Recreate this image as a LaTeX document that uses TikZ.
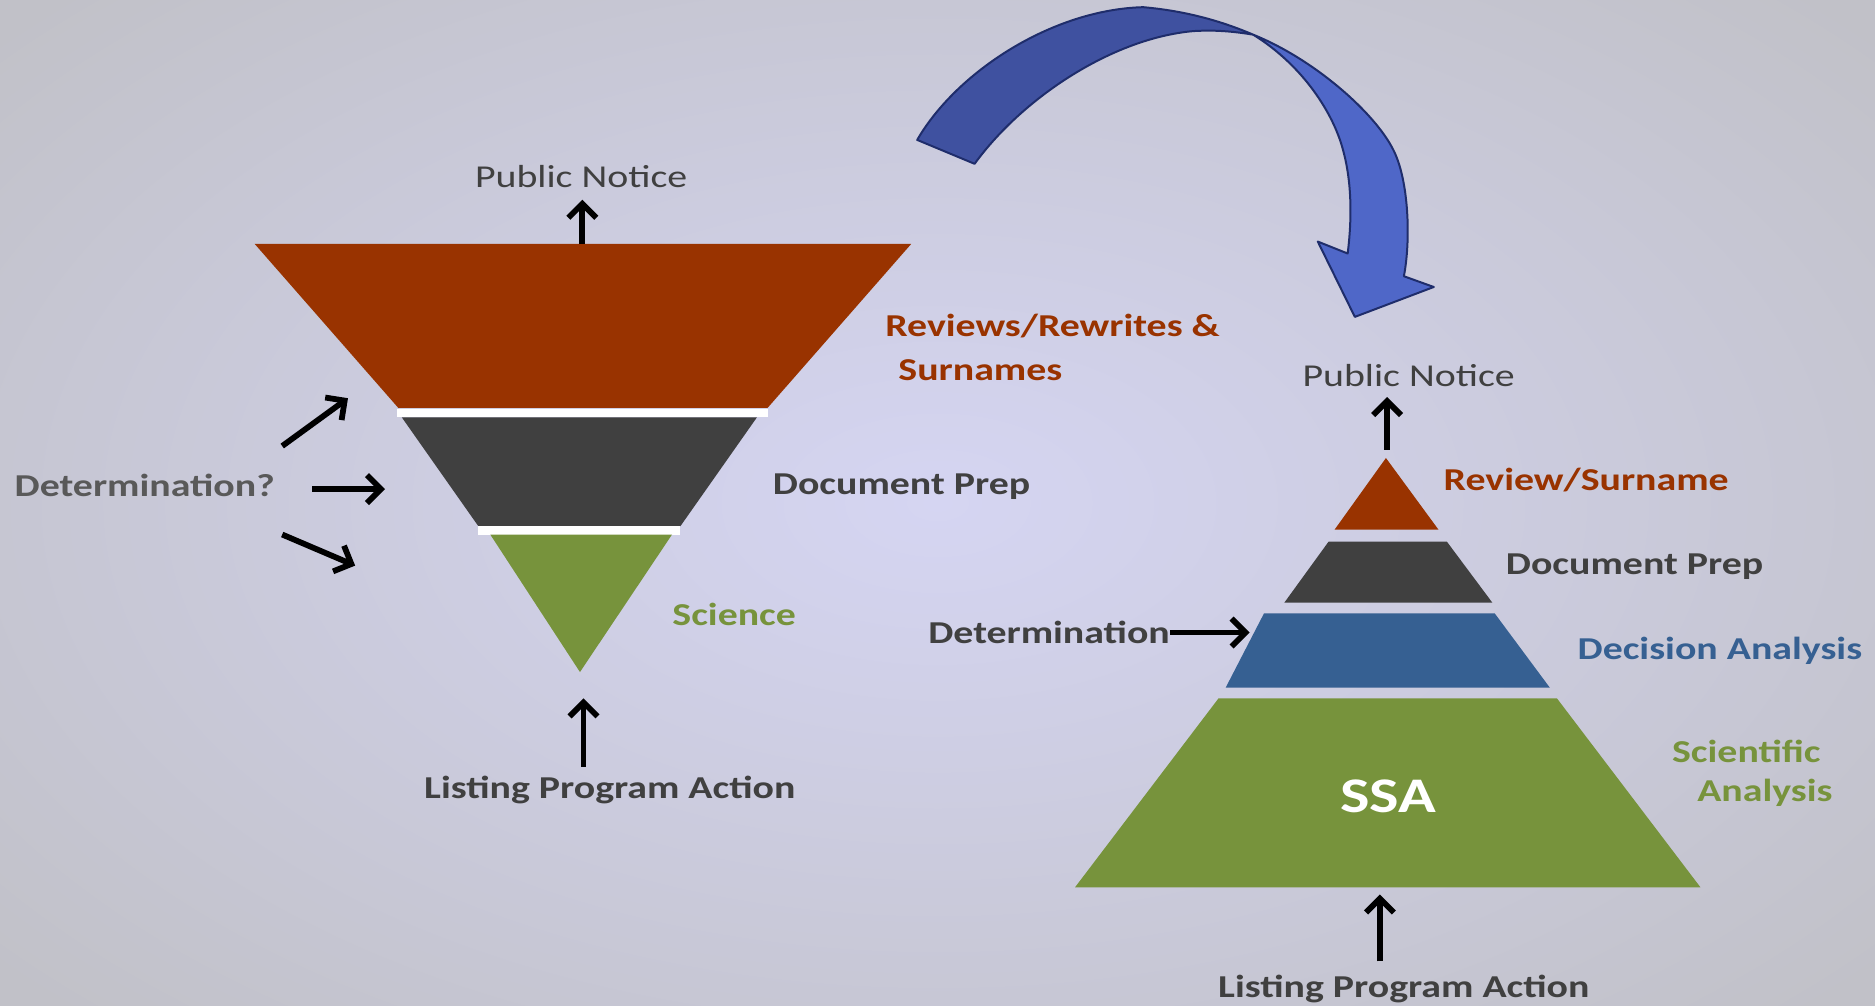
\documentclass[tikz,border=0pt]{standalone}
\usepackage{fontspec}
\usepackage{graphicx}
\setmainfont{Carlito}
\usetikzlibrary{arrows.meta}
\definecolor{bgin}{HTML}{D5D5F2}
\definecolor{bgout}{HTML}{C1C1C8}
\definecolor{rust}{HTML}{993300}
\definecolor{dgray}{HTML}{404040}
\definecolor{mgray}{HTML}{595959}
\definecolor{sblue}{HTML}{366092}
\definecolor{ogreen}{HTML}{77933C}
\definecolor{arrdark}{HTML}{3F51A0}
\definecolor{arrlight}{HTML}{4F67C8}
\definecolor{arredge}{HTML}{1F2D6B}
\newcommand{\wide}[1]{\scalebox{1.25}[1]{#1}}
\begin{document}
\begin{tikzpicture}[x=0.6pt,y=-0.6pt,
  lbl/.style={inner sep=0pt, yshift=-3.3pt, font=\fontsize{16}{18}\selectfont},
  blbl/.style={lbl, font=\fontsize{16}{18}\selectfont\bfseries},
  arr/.style={line width=2.9pt, -{Straight Barb[length=7pt,width=14pt]}}
]
\useasboundingbox (0,0) rectangle (1568,841);
\begin{scope}
\clip (0,0) rectangle (1568,841);
\shade[inner color=bgin, outer color=bgout] (-250,-180) rectangle (1818,1021);
\end{scope}

% ---------- left funnel ----------
\fill[rust] (213,204) -- (762,204) -- (642,341) -- (333,341) -- cycle;
\fill[white] (332,342) rectangle (642,349);
\fill[dgray] (336,349) -- (633,349) -- (569,440) -- (400,440) -- cycle;
\fill[white] (400,440) rectangle (569,447);
\fill[ogreen] (410,447) -- (562,447) -- (485,562) -- cycle;

\coordinate (ltop) at (487,204);
\coordinate (ltopend) at (487,167);
\node[lbl, text=dgray, anchor=mid] (lpn) at (486,147) {\wide{Public Notice}};
\draw[arr] (ltop) -- (ltopend);

\node[blbl, text=rust, anchor=mid west] (rev1) at (740,272) {\wide{Reviews/Rewrites \&}};
\node[blbl, text=rust, anchor=mid west] (rev2) at (751,309) {\wide{Surnames}};
\node[blbl, text=dgray, anchor=mid west] (ldoc) at (646,404) {\wide{Document Prep}};
\node[blbl, text=ogreen, anchor=mid west] (lsci) at (562,514) {\wide{Science}};
\node[blbl, text=dgray, anchor=mid] (llpa) at (510,658) {\wide{Listing Program Action}};
\coordinate (lbot) at (488,641);
\coordinate (lbotend) at (488,584);
\draw[arr] (lbot) -- (lbotend);

\node[blbl, text=mgray, anchor=mid west] (ldet) at (12,406) {\wide{Determination?}};
\coordinate (d1s) at (236,373); \coordinate (d1e) at (291,333);
\coordinate (d2s) at (261,409); \coordinate (d2e) at (322,409);
\coordinate (d3s) at (236,447); \coordinate (d3e) at (297,473);
\draw[arr] (d1s) -- (d1e);
\draw[arr] (d2s) -- (d2e);
\draw[arr] (d3s) -- (d3e);

% ---------- curved arrow ----------
\draw[arredge, line width=1pt, fill=arrdark, line join=round]
  (767,117) .. controls (800,60) and (880,8) .. (956,6)
  .. controls (990,9) and (1020,17) .. (1048,29)
  .. controls (1030,26) and (1015,25) .. (998,26)
  .. controls (930,32) and (855,82) .. (815,137) -- cycle;
\draw[arredge, line width=1pt, fill=arrlight, line join=round]
  (1048,29) .. controls (1100,50) and (1150,95) .. (1165,125)
  .. controls (1178,150) and (1180,200) .. (1174,231)
  -- (1199,240) -- (1133,265) -- (1102,202) -- (1127,212)
  .. controls (1131,180) and (1130,150) .. (1123,125)
  .. controls (1115,95) and (1090,55) .. (1048,29) -- cycle;

% ---------- right pyramid ----------
\fill[rust] (1159,383) -- (1203,443) -- (1116,443) -- cycle;
\fill[dgray] (1111,453) -- (1210,453) -- (1248,504) -- (1074,504) -- cycle;
\fill[sblue] (1057,513) -- (1250,513) -- (1296,575) -- (1025,575) -- cycle;
\fill[ogreen] (1019,584) -- (1302,584) -- (1422,742) -- (899,742) -- cycle;

\node[blbl, text=white, anchor=mid, font=\fontsize{25}{28}\selectfont\bfseries] (ssa) at (1161,670) {\wide{SSA}};

\node[lbl, text=dgray, anchor=mid] (rpn) at (1178,314) {\wide{Public Notice}};
\coordinate (rtop) at (1160,376);
\coordinate (rtopend) at (1160,332);
\draw[arr] (rtop) -- (rtopend);

\node[blbl, text=rust, anchor=mid west] (rrev) at (1207,401) {\wide{Review/Surname}};
\node[blbl, text=dgray, anchor=mid west] (rdoc) at (1259,471) {\wide{Document Prep}};
\node[blbl, text=sblue, anchor=mid west] (rdec) at (1319,542) {\wide{Decision Analysis}};
\node[blbl, text=ogreen, anchor=mid west] (rsci1) at (1398,628) {\wide{Scientific}};
\node[blbl, text=ogreen, anchor=mid west] (rsci2) at (1419,661) {\wide{Analysis}};

\node[blbl, text=dgray, anchor=mid west] (rdet) at (776,529) {\wide{Determination}};
\coordinate (rdetend) at (1045,529);
\draw[arr] (rdet.east |- rdetend) -- (rdetend);

\node[blbl, text=dgray, anchor=mid] (rlpa) at (1174,825) {\wide{Listing Program Action}};
\coordinate (rbot) at (1154,804);
\coordinate (rbotend) at (1154,748);
\draw[arr] (rbot) -- (rbotend);
\end{tikzpicture}
\end{document}
